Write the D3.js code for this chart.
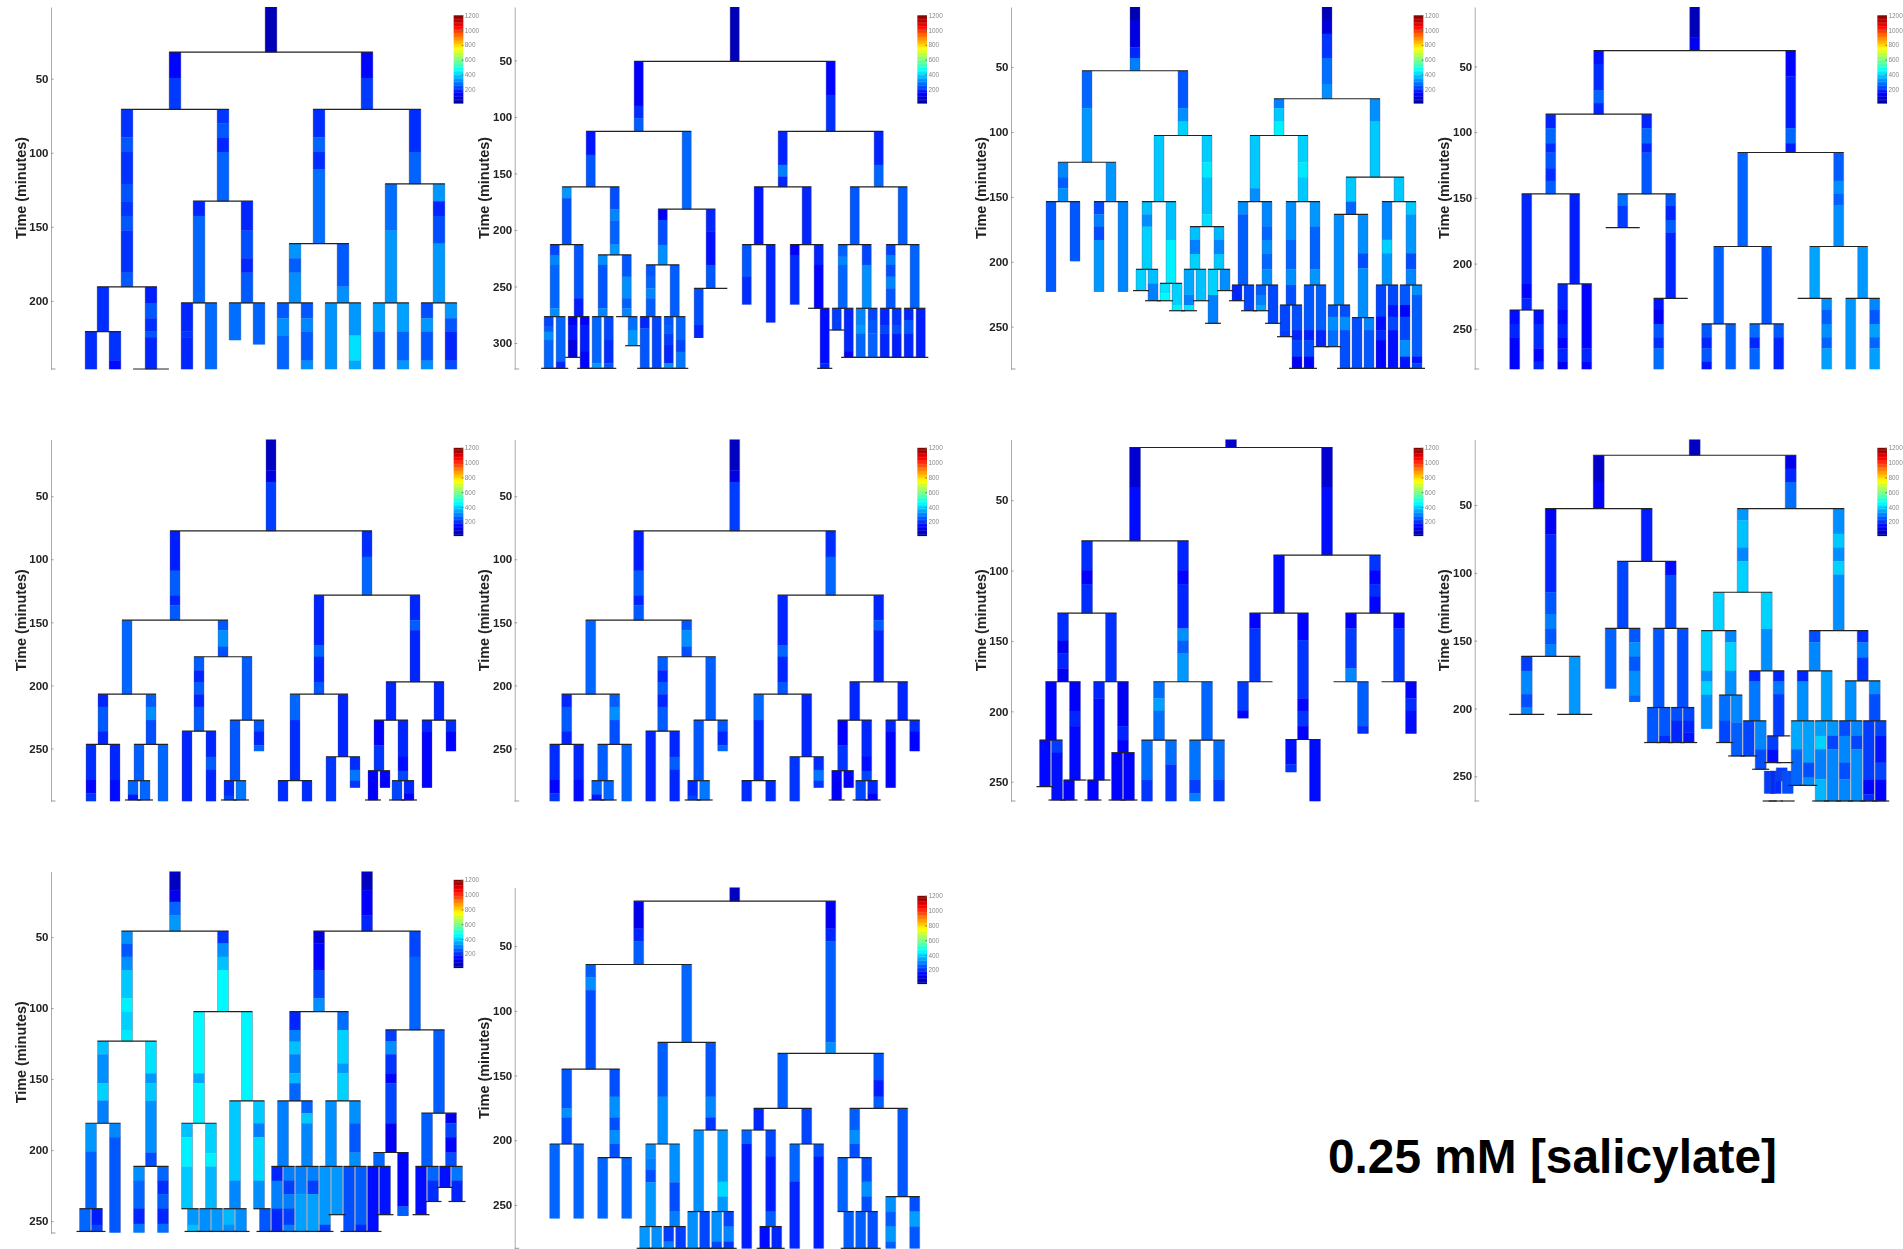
<!DOCTYPE html>
<html><head><meta charset="utf-8">
<script src="https://d3js.org/d3.v7.min.js"></script>
<style>html,body{margin:0;background:#fff}svg{display:block}text{font-family:"Liberation Sans",Arial,sans-serif}</style>
</head><body><svg id="c" width="1903" height="1249"></svg>
<script>
// Node: [[endMinute, value, endMinute, value, ...], leftChild, rightChild]
// child 0 = daughter not followed (division line still spans her side); child null = no line on her side; no children = no division line
const tree1=[[32,60],
 [[49.5,150,70.7,215],
  [[89.6,205,99.5,250,121,205,132.7,245,142.6,210,152.5,250,180.9,205,190.5,255],
   [[220.7,200],[[246,200]],[[240.3,205,246,160]]],
   [[201.4,180,211.7,250,220.7,200,224.5,250,246,190],0,0]],
  [[80,210,89.6,250,99.5,190,132.7,265],
   [[142.6,190,201.4,270],[[220.7,190,224.5,210,246,190]],[[246,275]]],
   [[152.5,190,171.2,240,180.9,190,201.4,255],[[226.4,280]],[[229.3,265]]]]],
 [[49.5,150,70.7,215],
  [[89.6,200,99.5,270,111.3,200,161.3,280],
   [[171.2,325,180.9,260,201.4,320],[[211.7,255,223.4,320,246,270]],[[211.7,250,220.7,310,240.3,255,246,320]]],
   [[190.3,255,201.4,320],[[246,325]],[[223.4,330,240.3,420,246,350]]]],
  [[99.5,200,121,265],
   [[152.5,280,201.4,330],[[220.7,340,246,260]],[[220.7,340,240.3,265,246,330]]],
   [[132.7,330,142.6,190,161.3,240,201.4,330],[[211.7,240,220.7,330,240.3,250,246,320]],[[211.7,330,220.7,250,240.3,190,246,240]]]]]];

const tree2=[[50.9,60],
 [[90.1,140,101.1,200,112.9,260],
  [[133.5,170,161.9,250],
   [[171.9,330,212.9,245],
    [[222.1,230,230.9,310,269.3,270,276.7,320],[[285.5,230,290,260,297.3,320,322.4,270],0,0],[[316.5,270,322.4,190],0,0]],
    [[260.4,250,276.7,180],[[284.1,130,297.3,170,312.7,110],0,0],[[284.1,140,307.7,180,322.4,150],0,0]]],
   [[181.6,240,191.7,310,212.9,265,222.1,330],
    [[230.9,320,269.3,250,276.7,310],[[318,270,322.4,330],0,0],[[297.3,230,318,200,322.4,250],0,0]],
    [[241.3,250,260.4,320,269.3,260,276.7,310],0,[[288.5,280,302.4,330],0,0]]]],
  [[181.6,270],
   [[191.1,130,213.2,240,230.9,320],
    [[241.3,250,251.6,270,260.4,310,276.7,260],[[287,190,322.4,250],0,0],[[322.4,230],0,0]],
    [[276.7,260],[[284.1,250,291.4,260,301.8,220,318,190,322.4,320],0,0],[[297.3,270,307.7,230,322.4,290],0,0]]],
   [[201.4,190,230.9,165,251.6,250],[[284.1,240,295.3,190]],0]]],
 [[80.4,150,112.9,205],
  [[142.4,190,152.7,300,161.9,190],
   [[212.9,170],[[241.3,250,265.8,200]],[[281.7,190]]],
   [[212.9,190],[[222.1,140,265.8,200]],[[230.9,190,269.3,150],0,[[318,160,322.4,190],0,0]]]],
  [[142.4,190,161.9,270],
   [[212.9,250],
    [[223.6,265,230.9,310,269.3,270],[[288.5,220],0,0],[[307.7,190,312.7,140],0,0]],
    [[230.9,230,269.3,320],[[284.1,310,291.4,330,312.7,270],0,0],[[279.6,230,291.4,250,312.7,265],0,0]]],
   [[212.9,260],
    [[222.1,230,230.9,300,241.3,240,251.6,310,269.3,250],[[284.1,190,291.4,230,312.7,190],0,0],[[284.1,210,291.4,240,312.7,180],0,0]],
    [[269.3,265],[[279.6,190,291.4,250,312.7,190],0,0],[[312.7,180],0,0]]]]]];

const tree3=[[],
 [[13.5,50,34.8,110,43,190,52.8,300],
  [[81.6,270,123.3,330],
   [[134.8,310,143.3,260,153.6,320],[[223,255]],[[199.4,250]]],
   [[153.6,330],[[163.4,240,172.9,300,183.2,240,223,330]],[[223,310]]]],
  [[81.6,250,91.9,320,102.7,400],
   [[153.6,390],
    [[163.4,380,172.9,320,205.8,400],[[222.2,400],0,0],[[216.6,380,230,300],0,0]],
    [[183.2,380,216.6,440],[[224.3,420,230,450],0,0],[[233.3,400,237.7,440],0,0]]],
   [[123.3,395,134.8,430,163.4,380,172.9,420],
    [[183.2,380,194,300,205.8,400],[[225.6,350,233.3,300,237.7,430],0,0],[[230,380],0,0]],
    [[183.2,370,194,310,205.8,390],[[225.6,400,247.4,300],0,0],[[222.2,320],0,0]]]]],
 [[13.5,60,24.3,100,43,210,63,280,74.4,320],
  [[81.6,300,91.9,390,102.7,440],
   [[143.3,390,153.6,320],
    [[163.4,320,217.9,260],[[230,190],0,0],[[237.7,230],0,0]],
    [[172.9,310,183.2,270,194,320,205.8,270,217.9,320],[[225.6,260,233.3,300,237.7,350],0,0],[[247.4,230],0,0]]],
   [[123.3,400,134.8,430,153.6,390],
    [[183.2,320,205.8,270,217.9,320,233.3,240],[[252.6,230,257.7,220],0,0],[[252.6,240,260.3,190,273.1,230,282.1,130],0,0]],
    [[172.9,330,205.8,265,217.9,330],[[252.6,250,260.3,180,273.1,240,282.1,150],0,0],[[252.6,260,265.4,190],0,0]]]],
  [[91.9,320,134.8,390],
   [[153.6,390,163.4,270],
    [[233.3,320],[[242.3,250,252.6,320,265.4,280],0,0],[[242.3,240,252.6,320,282.1,240],0,0]],
    [[193.4,320,205,240,243,320],[[282.1,240],0,0],[[252.6,310,282.1,250],0,0]]],
   [[153.6,390],
    [[183,310,193.4,400,217.9,330],[[242.3,230,252.6,160,260.3,200,282.1,150],0,0],[[233.3,230,242.3,170,252.6,230,282.1,165],0,0]],
    [[163.4,390,193.4,330,205.8,240,217.9,310],[[233.3,250,242.3,150,260.3,230,273.1,320,282.1,170],0,0],[[225.6,320,273.1,260,278.3,170,282.1,230],0,0]]]]]];

const tree4=[[27.7,60,38,130],
 [[48,170,68.3,200,77.9,270,86.3,190],
  [[97,190,108.4,270,115.5,200,127.4,250,137,200,147,260],
   [[215.5,190,226.4,150,235.3,190],[[245.9,160,256,190,280.2,150]],[[245.9,165,264.5,200,274.6,150,280.2,190]]],
   [[215.5,180],[[235.3,190,245.9,160,256,190,264.5,150,274.6,190,280.2,130]],[[264.5,150,274.6,190,280.2,150]]]],
  [[97,190,108.4,270,115.5,190,147,250],
   [[155.8,280,172.6,220],0,0],
   [[155.8,250,166.8,190,176.4,260,226.4,190],[[235.3,170,245.9,130,256,250,264.5,200,280.2,280]],0]]],
 [[57.6,150,97,180,108.4,270,115.5,180],
  [[187,265],
   [[245.9,260],[[256,250,264.5,190,274.6,250,280.2,170]],[[280.2,265]]],
   [[245.9,250],[[256,275,264.5,190,280.2,270]],[[256,255,280.2,190]]]],
  [[137,260,147,320,155.8,265,187,320],
   [[226.4,345],0,[[235.3,320,245.9,260,256,320,264.5,265,280.2,340]]],
   [[226.4,330],[[280.2,330]],[[235.3,310,245.9,250,256,340,264.5,270,280.2,340]]]]]];

const tree5=[[29.4,70,38.6,110,77.5,220],
 [[109,180,128.5,260,136.4,190,148.3,255],
  [[207,270],
   [[217,190,236.3,255,246.8,190],[[275,200,285.5,150,291.7,210]],[[275,190,291.7,160]]],
   [[217,260,227.5,320,246.8,240],
    [[275.6,260],[[286.7,270,290.9,170],0,0],[[290.9,270],0,0]],
    [[291.7,270]]]],
  [[156.2,250,169.4,320,177.3,240],
   [[188,260,197.2,190,207,260,217,190,236.3,255],[[291.7,190]],[[256.6,190,267,260,291.7,190]]],
   [[227.5,260],
    [[275.6,250],[[287.5,200,290.9,230],0,0],[[290.9,290],0,0]],
    [[236.3,250,247.4,190,252,270]]]]],
 [[98,200,128.5,270],
  [[168,190,177.3,270,197.2,190,207,250],
   [[227.5,270,275.6,200],[[291.7,200]],[[291.7,200]]],
   [[256.6,190],[[291.7,210]],[[267,200,275.6,290,281,210]]]],
  [[148.3,190,156.2,260,197.2,190],
   [[227.5,190],
    [[247.4,140,267.7,210],[[290.9,140],0,0],[[281,150]]],
    [[256.6,190,267.7,160,275.6,230],[[290.9,230],0,0],[[286,190,290.9,140],0,0]]],
   [[227.5,190],[[236.3,190,281,150]],[[236.3,200,252,150]]]]]];

const tree7=[[12.6,80],
 [[40.5,90,78.9,160],
  [[99.7,200,109.6,140,130.2,200],
   [[149.9,200,158.9,130,169.5,190,179,130],
    [[220.4,150],[[253.5,155],0,0],[[229.4,220,263,165],0,0]],
    [[199.6,140,210.5,190,248.8,155],[[263,150],0,0],0]],
   [[179,205],
    [[190.8,190,248.8,160],[[263,150],0,0],0],
    [[210.5,130,220.4,190,229.4,140],[[263,150],0,0],[[263,150],0,0]]]],
  [[99.7,190,109.6,150,141.1,190,149.9,320,158.9,260,179,330],
   [[190.8,280,199.6,340,220.4,280],[[248.8,280,263.7,210]],[[237.7,280,263.7,210]]],
   [[220.4,270],[[248.8,285,258.3,220,263.7,300]],[[248.8,280,263.7,220]]]]],
 [[40.5,90,89,160],
  [[130.2,160],
   [[141.1,150,179,210],[[199.6,220,204.8,150]],0],
   [[149.4,150,190.8,210,199.6,150,210.5,210,220,140],[[237.7,165,243.1,210]],[[263.7,160]]]],
  [[99.7,210,109.6,150,118.6,200,130.2,150],
   [[141.1,150,169.5,220,179,310],0,[[210.5,260,215.7,200]]],
   [[141.1,150,179,215],0,[[190.8,150,199.6,200,215.7,160]]]]]];

const tree8=[[13.3,70],
 [[33,80,52.7,140],
  [[71.7,130,114.3,190,130.3,250,141.4,300,152.5,250,161.6,300],
   [[172.2,220,189.4,310,199.3,240,204.4,310],0,0],
   [[204.4,330],0,0]],
  [[91.6,180],
   [[140.9,230],[[185.2,265]],[[151.2,250,161.8,320,172.2,250,190.6,320,195,270]]],
   [[101.5,160,140.9,240],
    [[199.3,250],[[225.1,250],0,0],[[220.2,250,225.1,200],0,0]],
    [[199.3,240],[[209.1,240,225.1,190],0,0],[[209.1,230,217.7,190,225.1,170],0,0]]]]],
 [[23.2,120,33,190,52.7,280],
  [[61.3,330,81.5,380,91.4,310,114.3,400],
   [[142.6,400],
    [[172.2,400,180.1,320,189.9,400,214.8,320]],
    [[151.2,310,172.2,400,190.1,320],
     [[209.1,280,225.1,230],0,0],
     [[210.3,310,235,260],0,0]]],
   [[141.4,400,172.2,320],
    [[180.1,190,209.1,290],[[235,230],0,0],[[230,310,244.8,240],0,0]],
    [[180.1,190,189.4,290,220.2,220],
     [[230,220,239.9,160],
      [[246,0,262.6,220,268.2,0],0,0],
      [[246,0,262.6,200,268.2,0],0,0]],
     [[239.9,0],
      [[243.6,0,253.4,220]],
      [[246,0,262.6,240,268.2,0],0,0]]]]],
  [[71.2,320,81.5,390,91.4,320,101.2,400,142.6,320],
   [[151.2,240,172.2,310],
    [[180.1,190,209.1,320],[[230,350,256.7,270],0,0],[[239.9,340,250.9,240,256.7,320],0,0]],
    [[209.1,340],[[220.2,340,230,400,252.2,300,268.2,370],0,0],[[220.2,330,230,230,268.2,310],0,0]]],
   [[151.2,200,162.3,300,179.6,210],
    [[209.1,320],[[220.2,240,239.9,310,252.2,240,268.2,310],0,0],[[220.2,310,230,230,268.2,320],0,0]],
    [[189.4,320,209.1,240],[[252.2,220,263.3,150,268.2,200],0,0],[[220.2,230,239.9,170,252.2,230,268.2,150],0,0]]]]]];

const tree9=[[],
 [[16.9,70,25.1,120,34.5,270,45.8,330],
  [[54.5,320,63.8,250,73.2,320,93.1,390,102.5,440,115.4,400,123.2,430],
   [[132.5,380,152.9,320,165.1,400,181.1,300],
    [[201.2,330,241.3,265],[[257.3,270],0,0],[[252.6,180,257.3,230],0,0]],
    [[190.9,310,258,250]]],
   [[145.9,420,152.9,330,165.4,390,201.7,320,211.5,240],
    [[221.6,320,241.3,270,251.9,190,258,290]],
    [[221.6,270,231,200,241.3,260,251.9,190,258,280]]]],
  [[54.5,210,63.8,320,73.2,380,102.5,450],
   [[145.9,450,152.9,350,181.1,440],
    [[190.9,380,211.5,440,241.3,390],null,[[252.6,330,257.3,380],0,0]],
    [[202.2,400,211.5,440,241.3,370],[[257.3,320],0,0],[[257.3,330],0,0]]],
   [[165.4,445],
    [[221.6,390,241.3,310],[[252.6,370,257.3,320],0,0],[[257.3,320],0,0]],
    [[181.1,390,190.9,300,221.6,410,241.3,320],null,[[257.3,250],0,0]]]]],
 [[16.9,70,34.5,140,45.8,190],
  [[54.5,100,73.2,150,93.1,230,102.5,320],
   [[115.4,190,123.6,300,132.5,380,145.9,300,152.9,370,165.4,270],
    [[211.5,300],
     [[221.6,190,241.3,300,257.3,190],0,0],
     [[221.6,300,231,220,241.3,300,252.6,220,257.3,300],0,0]],
    [[174,270,181.1,390,211.5,310],
     [[231,300,257.3,340],0,0],
     [[221.6,300,231,220,257.3,340],0,0]]],
   [[115.4,280,138.9,400,145.9,330,165.4,400],
    [[211.5,320],[[252.6,330,257.3,220],0,0],[[245.5,330],0,0]],
    [[181.1,320,201.7,250,211.5,320],[[257.3,240],0,0],[[252.6,260,257.3,190],0,0]]]],
  [[63.8,230,115.4,265],
   [[123.2,220,132.5,320,145.9,210,152.9,150,181.1,230,201.7,130],
    [[211.5,270],[[257.3,160],0,0],[[245.5,170],0,0]],
    [[239.7,150,246.2,260]]],
   [[174,260],
    [[211.5,260],[[245.5,160],0,0],[[221.6,270,236.2,200],0,0]],
    [[181.1,130,190.9,230,201.7,150,211.5,240],[[226.3,165],0,0],[[221.6,290,236.2,190],0,0]]]]]];

const tree10=[[15.3,70],
 [[36.4,120,46.1,190,64.2,260],
  [[74.2,260,84,320,145,240],
   [[175.4,250,182.3,320,202.9,240],[[260.3,270]],[[260.3,270]]],
   [[166.3,240,182.3,320,192.1,240,202.9,320,213.5,240],[[260.3,270]],[[260.3,270]]]],
  [[124.4,270],
   [[166.3,260,202.9,320],
    [[213.9,320,223,300,232.5,240,266.7,330],[[283.5,330],0,0],[[283.5,320],0,0]],
    [[232.5,320,255.1,240,266.7,300],[[278.3,220,283.5,300],0,0],[[283.5,220],0,0]]],
   [[166.3,250,182.3,310,192.1,210],
    [[255.1,320],[[283.5,320],0,0],[[283.5,230],0,0]],
    [[232,330,243.6,410,255.1,330],[[278.3,320,283.5,230],0,0],[[266.7,230,278.3,310,283.5,210],0,0]]]]],
 [[36.4,130,46.1,190,124.4,260,132.9,320],
  [[175.4,260],
   [[192.1,190],
    [[202.9,270,283.5,180]],
    [[212.7,230,255.1,180,266.7,260],[[283.5,160],0,0],[[283.5,190],0,0]]],
   [[202.9,230],[[232,270,283.5,190]],[[212.7,240,283.5,180]]]],
  [[153.5,250,166.3,180,175.4,260],
   [[192.1,260,202.9,320,213.5,240],
    [[255.1,270],null,[[283.5,260],0,0]],
    [[232,240,243.6,320,255.1,240],[[283.5,260],0,0],[[283.5,240],0,0]]],
   [[243.6,250],
    [[255.1,320,266.7,260,278.3,330,283.5,260]],
    [[255.1,240,266.7,340,283.5,250]]]]]];

const trees=[tree1,tree2,tree3,tree4,tree5,tree5,tree7,tree8,tree9,tree10];
const timeDomains=[[1.6,246],[2.8,323],[3.7,282.6],[4.8,280.2],[5,291.7],[5,291.7],[6.9,263.7],[1.7,268.2],[3.8,258.4],[4.7,283.5]];
const timeTicks=[[50,100,150,200],[50,100,150,200,250,300],[50,100,150,200,250],[50,100,150,200,250],[50,100,150,200,250],[50,100,150,200,250],[50,100,150,200,250],[50,100,150,200,250],[50,100,150,200,250],[50,100,150,200,250]];
const legendTicks=[200,400,600,800,1000,1200];
const jetStops=[10,145,456,754,1051,1200];
const jetColors=["#00008f","#0000ff","#00ffff","#ffff00","#ff0000","#800000"];
const yLabel="Time (minutes)";
const caption="0.25 mM [salicylate]";

// layout (not data)
const axisXs=[51,514.7,1011,1474.7,51,514.7,1011,1474.7,51,514.7];
const tops=[7,7,7,7,439.5,439.5,439.5,439.5,871.5,887.5];
const bottoms=[369,369,369,369,801,801,801,801,1233,1248.3];
const barWidths=[11.8,9.2,10,10,10,10,11,11,11,10];

const svg=d3.select("#c");
const color=d3.scaleLinear().domain(jetStops).range(jetColors);
const root=svg.append("g").style("filter","blur(0.5px)");

function flatten(node,depth,x,start,out){
  const segs=node[0];let t=start;
  for(let i=0;i<segs.length;i+=2){
    if(segs[i+1]>0) out.segs.push({x,t0:t,t1:segs[i],v:segs[i+1]});
    t=segs[i];
  }
  if(node.length>1){
    const off=Math.pow(2,-(depth+1));
    if(segs.length) out.lines.push({x0:node[1]===null?x:x-off,x1:node[2]===null?x:x+off,t});
    if(node[1]) flatten(node[1],depth+1,x-off,t,out);
    if(node[2]) flatten(node[2],depth+1,x+off,t,out);
  }
}

trees.forEach((tree,p)=>{
  const ax=axisXs[p],cx=ax+220,w=barWidths[p];
  const y=d3.scaleLinear().domain(timeDomains[p]).range([tops[p],bottoms[p]]);
  const x=d3.scaleLinear().domain([-1,1]).range([cx-192,cx+192]);
  const out={segs:[],lines:[]};
  flatten(tree,0,0,timeDomains[p][0],out);
  const g=root.append("g");
  g.selectAll("rect.s").data(out.segs).join("rect").attr("class","s")
    .attr("x",d=>x(d.x)-w/2).attr("width",w)
    .attr("y",d=>y(d.t0)).attr("height",d=>y(d.t1)-y(d.t0)+0.3)
    .attr("fill",d=>color(d.v));
  [-1,1].forEach((side,i)=>{
    g.selectAll("line.e"+i).data(out.segs).join("line").attr("class","e"+i)
      .attr("x1",d=>x(d.x)+side*w/2).attr("x2",d=>x(d.x)+side*w/2)
      .attr("y1",d=>y(d.t0)).attr("y2",d=>y(d.t1))
      .attr("stroke","#557").attr("stroke-opacity",.5).attr("stroke-width",.7);
  });
  g.selectAll("line.d").data(out.lines).join("line").attr("class","d")
    .attr("x1",d=>x(d.x0)-w/2).attr("x2",d=>x(d.x1)+w/2)
    .attr("y1",d=>y(d.t)).attr("y2",d=>y(d.t))
    .attr("stroke","#222").attr("stroke-width",1.2);
  // axis
  const ag=g.append("g").attr("transform",`translate(${ax},0)`)
    .call(d3.axisLeft(y).tickValues(timeTicks[p]).tickSize(-2.5).tickSizeOuter(0).tickPadding(2.5));
  ag.select(".domain").attr("stroke","#aaa").attr("stroke-width",1);
  ag.selectAll(".tick line").attr("stroke","#999");
  ag.selectAll("text").attr("fill","#222").attr("font-size",11.5).attr("font-weight",700)
    .attr("font-family",'"Liberation Sans",Arial,sans-serif');
  ag.append("line").attr("x1",0).attr("x2",4.5).attr("y1",y.range()[1]).attr("y2",y.range()[1]).attr("stroke","#999");
  g.append("text").attr("transform",`translate(${ax-30.5},${(tops[p]+bottoms[p])/2}) rotate(-90)`)
    .attr("text-anchor","middle").attr("dy","0.35em")
    .attr("font-size",14.4).attr("font-weight",700).attr("fill","#222").text(yLabel);
  // colour bar
  const lt=tops[p]+8.3, lb=lt+88, lx=ax+402.7, lw=9.6;
  const ly=d3.scaleLinear().domain([jetStops[0],jetStops[5]]).range([lb,lt]);
  const step=(jetStops[5]-jetStops[0])/64;
  const steps=d3.range(64).map(i=>jetStops[0]+i*step);
  g.append("g").selectAll("rect").data(steps).join("rect")
    .attr("x",lx).attr("width",lw).attr("y",d=>ly(d+step)).attr("height",d=>ly(d)-ly(d+step)+.3)
    .attr("fill",d=>color(d+step/2));
  const lg=g.append("g").attr("transform",`translate(${lx+lw},0)`)
    .call(d3.axisRight(ly).tickValues(legendTicks).tickFormat(d3.format("d")).tickSize(-1.5).tickPadding(1.5));
  lg.select(".domain").remove();
  lg.selectAll(".tick line").attr("stroke","#666");
  lg.selectAll("text").attr("fill","#888").attr("font-size",6.4)
    .attr("font-family",'"Liberation Sans",Arial,sans-serif');
});

svg.append("text").attr("x",1328).attr("y",1173).attr("font-size",47.8).attr("font-weight",700).attr("fill","#000").text(caption);
</script></body></html>
